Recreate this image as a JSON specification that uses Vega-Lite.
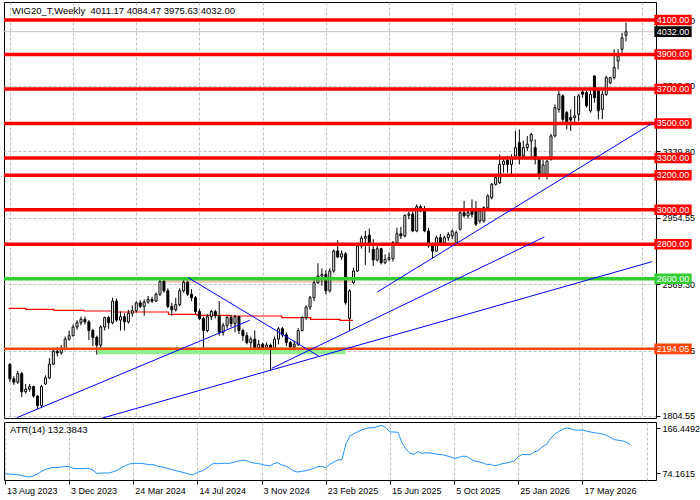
{
  "$schema": "https://vega.github.io/schema/vega-lite/v6.json",
  "background": "#ffffff",
  "padding": {"left": 1, "top": 1, "right": 0, "bottom": 0},
  "spacing": 4,
  "bounds": "flush",
  "config": {
    "font": "Liberation Sans",
    "view": {"stroke": "#000000", "strokeWidth": 1},
    "axis": {"labelFont": "Liberation Sans", "labelFontSize": 9, "labelColor": "#000000", "tickColor": "#000000"}
  },
  "datasets": {
    "bars": [
      {"d":"2023-08-13","o":2104,"h":2110,"l":2000,"c":2020,"atr":73.4},
      {"d":"2023-08-20","o":2020,"h":2035,"l":1985,"c":2000,"atr":72.7},
      {"d":"2023-08-27","o":2000,"h":2065,"l":1990,"c":2050,"atr":72.0},
      {"d":"2023-09-03","o":2050,"h":2060,"l":1915,"c":1945,"atr":71.4},
      {"d":"2023-09-10","o":1945,"h":1990,"l":1935,"c":1960,"atr":70.0},
      {"d":"2023-09-17","o":1960,"h":1990,"l":1945,"c":1975,"atr":68.0},
      {"d":"2023-09-24","o":1975,"h":1980,"l":1910,"c":1920,"atr":66.5},
      {"d":"2023-10-01","o":1920,"h":1925,"l":1845,"c":1865,"atr":68.6},
      {"d":"2023-10-08","o":1865,"h":1985,"l":1850,"c":1975,"atr":72.0},
      {"d":"2023-10-15","o":1990,"h":2040,"l":1985,"c":2025,"atr":77.5},
      {"d":"2023-10-22","o":2025,"h":2140,"l":2020,"c":2105,"atr":81.6},
      {"d":"2023-10-29","o":2105,"h":2190,"l":2100,"c":2180,"atr":84.3},
      {"d":"2023-11-05","o":2180,"h":2205,"l":2150,"c":2170,"atr":86.4},
      {"d":"2023-11-12","o":2170,"h":2215,"l":2160,"c":2195,"atr":85.7},
      {"d":"2023-11-19","o":2195,"h":2265,"l":2185,"c":2250,"atr":87.1},
      {"d":"2023-11-26","o":2250,"h":2300,"l":2240,"c":2270,"atr":88.4},
      {"d":"2023-12-03","o":2270,"h":2335,"l":2265,"c":2320,"atr":87.8},
      {"d":"2023-12-10","o":2320,"h":2360,"l":2305,"c":2345,"atr":84.3},
      {"d":"2023-12-17","o":2345,"h":2380,"l":2330,"c":2365,"atr":83.6},
      {"d":"2023-12-24","o":2365,"h":2380,"l":2335,"c":2350,"atr":83.6},
      {"d":"2023-12-31","o":2350,"h":2360,"l":2245,"c":2300,"atr":84.3},
      {"d":"2024-01-07","o":2300,"h":2310,"l":2210,"c":2260,"atr":84.3},
      {"d":"2024-01-14","o":2260,"h":2270,"l":2160,"c":2215,"atr":80.2},
      {"d":"2024-01-21","o":2215,"h":2330,"l":2200,"c":2320,"atr":73.4},
      {"d":"2024-01-28","o":2320,"h":2380,"l":2300,"c":2375,"atr":74.8},
      {"d":"2024-02-04","o":2375,"h":2385,"l":2310,"c":2345,"atr":74.8},
      {"d":"2024-02-11","o":2345,"h":2490,"l":2335,"c":2470,"atr":74.8},
      {"d":"2024-02-18","o":2470,"h":2485,"l":2350,"c":2360,"atr":77.5},
      {"d":"2024-02-25","o":2360,"h":2410,"l":2300,"c":2380,"atr":80.2},
      {"d":"2024-03-03","o":2380,"h":2400,"l":2300,"c":2350,"atr":85.7},
      {"d":"2024-03-10","o":2350,"h":2420,"l":2340,"c":2400,"atr":89.8},
      {"d":"2024-03-17","o":2400,"h":2445,"l":2380,"c":2415,"atr":93.2},
      {"d":"2024-03-24","o":2415,"h":2470,"l":2405,"c":2460,"atr":94.6},
      {"d":"2024-03-31","o":2460,"h":2475,"l":2430,"c":2440,"atr":94.6},
      {"d":"2024-04-07","o":2440,"h":2480,"l":2385,"c":2465,"atr":94.6},
      {"d":"2024-04-14","o":2465,"h":2500,"l":2455,"c":2480,"atr":93.2},
      {"d":"2024-04-21","o":2480,"h":2495,"l":2460,"c":2470,"atr":91.9},
      {"d":"2024-04-28","o":2470,"h":2520,"l":2465,"c":2510,"atr":91.9},
      {"d":"2024-05-05","o":2510,"h":2600,"l":2500,"c":2585,"atr":89.1},
      {"d":"2024-05-12","o":2585,"h":2600,"l":2520,"c":2530,"atr":87.1},
      {"d":"2024-05-19","o":2530,"h":2545,"l":2430,"c":2440,"atr":85.7},
      {"d":"2024-05-26","o":2440,"h":2460,"l":2385,"c":2420,"atr":83.0},
      {"d":"2024-06-02","o":2420,"h":2490,"l":2410,"c":2450,"atr":80.9},
      {"d":"2024-06-09","o":2450,"h":2545,"l":2440,"c":2530,"atr":78.9},
      {"d":"2024-06-16","o":2530,"h":2605,"l":2520,"c":2580,"atr":76.8},
      {"d":"2024-06-23","o":2580,"h":2590,"l":2500,"c":2510,"atr":74.8},
      {"d":"2024-06-30","o":2510,"h":2540,"l":2470,"c":2490,"atr":72.0},
      {"d":"2024-07-07","o":2490,"h":2500,"l":2395,"c":2410,"atr":71.4},
      {"d":"2024-07-14","o":2410,"h":2425,"l":2360,"c":2370,"atr":76.1},
      {"d":"2024-07-21","o":2370,"h":2380,"l":2200,"c":2300,"atr":78.9},
      {"d":"2024-07-28","o":2300,"h":2395,"l":2290,"c":2380,"atr":83.0},
      {"d":"2024-08-04","o":2380,"h":2420,"l":2360,"c":2410,"atr":89.1},
      {"d":"2024-08-11","o":2410,"h":2420,"l":2370,"c":2385,"atr":94.6},
      {"d":"2024-08-18","o":2385,"h":2470,"l":2270,"c":2290,"atr":93.9},
      {"d":"2024-08-25","o":2290,"h":2345,"l":2270,"c":2330,"atr":94.6},
      {"d":"2024-09-01","o":2330,"h":2385,"l":2310,"c":2375,"atr":94.6},
      {"d":"2024-09-08","o":2375,"h":2390,"l":2320,"c":2340,"atr":94.6},
      {"d":"2024-09-15","o":2340,"h":2390,"l":2290,"c":2380,"atr":96.6},
      {"d":"2024-09-22","o":2380,"h":2385,"l":2280,"c":2300,"atr":98.7},
      {"d":"2024-09-29","o":2300,"h":2310,"l":2240,"c":2270,"atr":100.7},
      {"d":"2024-10-06","o":2270,"h":2290,"l":2220,"c":2230,"atr":100.7},
      {"d":"2024-10-13","o":2230,"h":2265,"l":2200,"c":2250,"atr":97.3},
      {"d":"2024-10-20","o":2250,"h":2300,"l":2195,"c":2200,"atr":95.3},
      {"d":"2024-10-27","o":2200,"h":2245,"l":2195,"c":2220,"atr":94.6},
      {"d":"2024-11-03","o":2220,"h":2230,"l":2190,"c":2200,"atr":92.5},
      {"d":"2024-11-10","o":2200,"h":2230,"l":2190,"c":2215,"atr":90.5},
      {"d":"2024-11-17","o":2215,"h":2225,"l":2070,"c":2195,"atr":89.1},
      {"d":"2024-11-24","o":2195,"h":2265,"l":2190,"c":2250,"atr":93.9},
      {"d":"2024-12-01","o":2250,"h":2320,"l":2220,"c":2310,"atr":96.0},
      {"d":"2024-12-08","o":2310,"h":2320,"l":2260,"c":2275,"atr":91.2},
      {"d":"2024-12-15","o":2275,"h":2290,"l":2210,"c":2230,"atr":89.1},
      {"d":"2024-12-22","o":2230,"h":2240,"l":2195,"c":2205,"atr":84.3},
      {"d":"2024-12-29","o":2205,"h":2240,"l":2195,"c":2220,"atr":78.9},
      {"d":"2025-01-05","o":2220,"h":2315,"l":2210,"c":2300,"atr":76.8},
      {"d":"2025-01-12","o":2300,"h":2385,"l":2295,"c":2375,"atr":78.2},
      {"d":"2025-01-19","o":2375,"h":2445,"l":2360,"c":2436,"atr":79.5},
      {"d":"2025-01-26","o":2436,"h":2500,"l":2420,"c":2490,"atr":81.6},
      {"d":"2025-02-02","o":2490,"h":2590,"l":2470,"c":2577,"atr":84.3},
      {"d":"2025-02-09","o":2577,"h":2690,"l":2570,"c":2616,"atr":87.8},
      {"d":"2025-02-16","o":2616,"h":2660,"l":2560,"c":2625,"atr":88.4},
      {"d":"2025-02-23","o":2625,"h":2650,"l":2510,"c":2530,"atr":85.7},
      {"d":"2025-03-02","o":2530,"h":2660,"l":2520,"c":2645,"atr":92.5},
      {"d":"2025-03-09","o":2645,"h":2770,"l":2635,"c":2761,"atr":97.3},
      {"d":"2025-03-16","o":2761,"h":2823,"l":2720,"c":2726,"atr":101.4},
      {"d":"2025-03-23","o":2726,"h":2765,"l":2710,"c":2745,"atr":102.1},
      {"d":"2025-03-30","o":2745,"h":2755,"l":2450,"c":2461,"atr":133.6},
      {"d":"2025-04-06","o":2370,"h":2540,"l":2300,"c":2529,"atr":150.6},
      {"d":"2025-04-13","o":2577,"h":2664,"l":2568,"c":2645,"atr":155.4},
      {"d":"2025-04-20","o":2645,"h":2810,"l":2640,"c":2790,"atr":159.5},
      {"d":"2025-04-27","o":2790,"h":2850,"l":2775,"c":2835,"atr":163.6},
      {"d":"2025-05-04","o":2835,"h":2877,"l":2680,"c":2845,"atr":165.7},
      {"d":"2025-05-11","o":2852,"h":2890,"l":2751,"c":2809,"atr":167.7},
      {"d":"2025-05-18","o":2770,"h":2829,"l":2674,"c":2709,"atr":167.7},
      {"d":"2025-05-25","o":2709,"h":2790,"l":2700,"c":2774,"atr":170.5},
      {"d":"2025-06-01","o":2774,"h":2780,"l":2683,"c":2693,"atr":172.5},
      {"d":"2025-06-08","o":2693,"h":2742,"l":2684,"c":2712,"atr":167.7},
      {"d":"2025-06-15","o":2712,"h":2752,"l":2700,"c":2722,"atr":158.9},
      {"d":"2025-06-22","o":2716,"h":2819,"l":2700,"c":2809,"atr":158.9},
      {"d":"2025-06-29","o":2809,"h":2896,"l":2800,"c":2861,"atr":158.2},
      {"d":"2025-07-06","o":2861,"h":2900,"l":2830,"c":2848,"atr":137.0},
      {"d":"2025-07-13","o":2848,"h":2974,"l":2840,"c":2968,"atr":123.3},
      {"d":"2025-07-20","o":2968,"h":2990,"l":2945,"c":2975,"atr":115.1},
      {"d":"2025-07-27","o":2975,"h":2990,"l":2870,"c":2877,"atr":113.0},
      {"d":"2025-08-03","o":2877,"h":3031,"l":2870,"c":3018,"atr":118.5},
      {"d":"2025-08-10","o":3018,"h":3030,"l":2985,"c":2993,"atr":115.1},
      {"d":"2025-08-17","o":2993,"h":3022,"l":2870,"c":2877,"atr":116.5},
      {"d":"2025-08-24","o":2877,"h":2895,"l":2780,"c":2790,"atr":115.8},
      {"d":"2025-08-31","o":2790,"h":2810,"l":2720,"c":2760,"atr":114.4},
      {"d":"2025-09-07","o":2760,"h":2850,"l":2755,"c":2838,"atr":113.0},
      {"d":"2025-09-14","o":2838,"h":2860,"l":2795,"c":2809,"atr":112.4},
      {"d":"2025-09-21","o":2809,"h":2850,"l":2800,"c":2838,"atr":110.3},
      {"d":"2025-09-28","o":2838,"h":2870,"l":2820,"c":2857,"atr":108.3},
      {"d":"2025-10-05","o":2848,"h":2885,"l":2830,"c":2876,"atr":104.8},
      {"d":"2025-10-12","o":2809,"h":2880,"l":2800,"c":2867,"atr":106.2},
      {"d":"2025-10-19","o":2887,"h":2993,"l":2880,"c":2983,"atr":109.0},
      {"d":"2025-10-26","o":2983,"h":3051,"l":2955,"c":2965,"atr":109.0},
      {"d":"2025-11-02","o":2965,"h":3000,"l":2950,"c":2983,"atr":104.2},
      {"d":"2025-11-09","o":3002,"h":3060,"l":2955,"c":2973,"atr":99.4},
      {"d":"2025-11-16","o":2993,"h":3050,"l":2906,"c":2916,"atr":98.0},
      {"d":"2025-11-23","o":2935,"h":3000,"l":2920,"c":2993,"atr":96.0},
      {"d":"2025-11-30","o":2935,"h":3020,"l":2925,"c":3012,"atr":92.5},
      {"d":"2025-12-07","o":3012,"h":3090,"l":3005,"c":3080,"atr":92.5},
      {"d":"2025-12-14","o":3070,"h":3155,"l":3060,"c":3147,"atr":89.8},
      {"d":"2025-12-21","o":3147,"h":3196,"l":3140,"c":3186,"atr":91.2},
      {"d":"2025-12-28","o":3157,"h":3321,"l":3150,"c":3263,"atr":93.9},
      {"d":"2026-01-04","o":3263,"h":3302,"l":3215,"c":3282,"atr":95.3},
      {"d":"2026-01-11","o":3286,"h":3312,"l":3215,"c":3263,"atr":97.3},
      {"d":"2026-01-18","o":3263,"h":3321,"l":3205,"c":3300,"atr":99.4},
      {"d":"2026-01-25","o":3312,"h":3457,"l":3292,"c":3360,"atr":108.3},
      {"d":"2026-02-01","o":3389,"h":3466,"l":3263,"c":3312,"atr":113.0},
      {"d":"2026-02-08","o":3312,"h":3400,"l":3300,"c":3360,"atr":112.4},
      {"d":"2026-02-15","o":3360,"h":3428,"l":3340,"c":3380,"atr":112.4},
      {"d":"2026-02-22","o":3399,"h":3447,"l":3302,"c":3437,"atr":117.8},
      {"d":"2026-03-01","o":3360,"h":3408,"l":3263,"c":3292,"atr":121.3},
      {"d":"2026-03-08","o":3292,"h":3300,"l":3176,"c":3205,"atr":128.8},
      {"d":"2026-03-15","o":3205,"h":3290,"l":3195,"c":3260,"atr":133.6},
      {"d":"2026-03-22","o":3197,"h":3290,"l":3176,"c":3282,"atr":145.2},
      {"d":"2026-03-29","o":3292,"h":3440,"l":3285,"c":3428,"atr":154.1},
      {"d":"2026-04-05","o":3428,"h":3611,"l":3420,"c":3592,"atr":159.5},
      {"d":"2026-04-12","o":3582,"h":3688,"l":3563,"c":3669,"atr":164.3},
      {"d":"2026-04-19","o":3660,"h":3669,"l":3505,"c":3524,"atr":167.1},
      {"d":"2026-04-26","o":3563,"h":3573,"l":3466,"c":3495,"atr":165.7},
      {"d":"2026-05-03","o":3534,"h":3582,"l":3457,"c":3520,"atr":163.0},
      {"d":"2026-05-10","o":3534,"h":3660,"l":3505,"c":3544,"atr":162.3},
      {"d":"2026-05-17","o":3553,"h":3670,"l":3515,"c":3660,"atr":163.0},
      {"d":"2026-05-24","o":3683,"h":3698,"l":3650,"c":3670,"atr":160.9},
      {"d":"2026-05-31","o":3679,"h":3689,"l":3592,"c":3602,"atr":158.9},
      {"d":"2026-06-07","o":3573,"h":3690,"l":3563,"c":3669,"atr":157.5},
      {"d":"2026-06-14","o":3775,"h":3780,"l":3621,"c":3650,"atr":156.1},
      {"d":"2026-06-21","o":3688,"h":3698,"l":3524,"c":3573,"atr":154.8},
      {"d":"2026-06-28","o":3582,"h":3690,"l":3525,"c":3669,"atr":152.0},
      {"d":"2026-07-05","o":3669,"h":3776,"l":3660,"c":3766,"atr":147.2},
      {"d":"2026-07-12","o":3737,"h":3770,"l":3727,"c":3766,"atr":143.1},
      {"d":"2026-07-19","o":3766,"h":3930,"l":3756,"c":3824,"atr":141.8},
      {"d":"2026-07-26","o":3862,"h":3930,"l":3814,"c":3891,"atr":140.7},
      {"d":"2026-08-02","o":3930,"h":4026,"l":3910,"c":3997,"atr":137.6},
      {"d":"2026-08-09","o":4011.17,"h":4084.47,"l":3975.63,"c":4032.00,"atr":132.3843}
    ],
    "levels": [
      {"p":4100,"kind":"level"},
      {"p":4032,"kind":"last"},
      {"p":3900,"kind":"level"},
      {"p":3700,"kind":"level"},
      {"p":3500,"kind":"level"},
      {"p":3300,"kind":"level"},
      {"p":3200,"kind":"level"},
      {"p":3000,"kind":"level"},
      {"p":2800,"kind":"level"},
      {"p":2600,"kind":"key"},
      {"p":2194.05,"kind":"base"}
    ],
    "bands": [
      {"kind":"zone","d1":"2024-01-16","d2":"2025-03-30","p":2183},
      {"kind":"top","d1":"2024-05-08","d2":"2025-04-12","p":2584}
    ],
    "ma": [
      {"d":"2023-08-11","p":2428.7},
      {"d":"2023-09-10","p":2422.9},
      {"d":"2023-10-30","p":2417.1},
      {"d":"2023-12-22","p":2413.1},
      {"d":"2024-02-09","p":2407.3},
      {"d":"2024-05-20","p":2393.9},
      {"d":"2024-07-10","p":2388.1},
      {"d":"2024-09-05","p":2384.1},
      {"d":"2024-12-07","p":2374.2},
      {"d":"2025-01-27","p":2365.0},
      {"d":"2025-03-20","p":2359.2},
      {"d":"2025-04-12","p":2359.2}
    ],
    "trend": [
      {"id":"a","d":"2023-08-25T05:00:00Z","p":1794.5},
      {"id":"a","d":"2024-10-11T02:00:00Z","p":2359.2},
      {"id":"b","d":"2024-01-16T10:00:00Z","p":1785.3},
      {"id":"b","d":"2026-09-24T00:00:00Z","p":2698.9},
      {"id":"c","d":"2024-11-19T05:00:00Z","p":2080.9},
      {"id":"c","d":"2026-03-17T05:00:00Z","p":2842},
      {"id":"d","d":"2025-05-25T03:00:00Z","p":2523.2},
      {"id":"d","d":"2026-09-22T07:00:00Z","p":3497.1},
      {"id":"e","d":"2024-06-24T02:00:00Z","p":2606},
      {"id":"e","d":"2025-02-12T22:00:00Z","p":2146.4}
    ]
  },
  "vconcat": [
    {
      "width": 652,
      "height": 416,
      "layer": [
        {
          "data": {"name": "bands"},
          "transform": [{"filter": "datum.kind == 'zone'"}],
          "mark": {"type": "rule", "color": "#90ee90", "strokeWidth": 7},
          "encoding": {
            "x": {"field": "d1", "type": "temporal"},
            "x2": {"field": "d2"},
            "y": {"field": "p", "type": "quantitative"}
          }
        },
        {
          "data": {"name": "bands"},
          "transform": [{"filter": "datum.kind == 'top'"}],
          "mark": {"type": "rule", "color": "#f5c6bd", "strokeWidth": 2.5},
          "encoding": {
            "x": {"field": "d1", "type": "temporal"},
            "x2": {"field": "d2"},
            "y": {"field": "p", "type": "quantitative"}
          }
        },
        {
          "data": {"name": "ma"},
          "mark": {"type": "line", "color": "#ff0000", "strokeWidth": 1.2, "interpolate": "step-after", "clip": true},
          "encoding": {
            "x": {"field": "d", "type": "temporal"},
            "y": {"field": "p", "type": "quantitative"}
          }
        },
        {
          "data": {"name": "levels"},
          "transform": [{"filter": "datum.kind == 'last'"}],
          "mark": {"type": "rule", "color": "#c0c0c0", "strokeWidth": 1},
          "encoding": {
            "y": {"field": "p", "type": "quantitative"}
          }
        },
        {
          "data": {"name": "bars"},
          "mark": {"type": "rule", "color": "#000000", "strokeWidth": 1},
          "encoding": {
            "x": {
              "field": "d", "type": "temporal",
              "scale": {"type": "utc", "domain": [{"year": 2023, "month": 8, "date": 11, "hours": 10, "utc": true}, {"year": 2026, "month": 9, "date": 22, "hours": 7, "utc": true}]},
              "axis": {
                "values": [1691884800000, 1696723200000, 1701561600000, 1706400000000, 1711238400000, 1716076800000, 1720915200000, 1725753600000, 1730592000000, 1735430400000, 1740268800000, 1745107200000, 1749945600000, 1754784000000, 1759622400000, 1764460800000, 1769299200000, 1774137600000, 1778976000000, 1783814400000, 1788652800000],
                "grid": true, "gridDash": [3, 2], "gridColor": "#c0c0c0",
                "labels": false, "ticks": false, "domain": false, "title": null
              }
            },
            "y": {
              "field": "l", "type": "quantitative",
              "scale": {"domain": [1792.8, 4204.3], "zero": false, "nice": false},
              "axis": {
                "orient": "right",
                "values": [1804.55, 1994.30, 2184.05, 2379.55, 2569.30, 2764.80, 2954.55, 3144.30, 3339.80, 3529.55, 3719.30, 3909.05, 4098.80],
                "format": ".2f",
                "grid": true, "gridDash": [3, 2], "gridColor": "#c0c0c0",
                "tickSize": 4, "labelPadding": 2, "labelFlush": false, "labelOverlap": false,
                "domain": false, "title": null
              }
            },
            "y2": {"field": "h"}
          }
        },
        {
          "data": {"name": "bars"},
          "mark": {"type": "bar", "size": 2, "stroke": "#000000", "strokeWidth": 1},
          "encoding": {
            "x": {"field": "d", "type": "temporal"},
            "y": {"field": "o", "type": "quantitative"},
            "y2": {"field": "c"},
            "fill": {"condition": {"test": "datum.c < datum.o", "value": "#000000"}, "value": "#ffffff"}
          }
        },
        {
          "data": {"name": "levels"},
          "transform": [{"filter": "datum.kind == 'level' || datum.kind == 'key'"}],
          "mark": {"type": "rule", "strokeWidth": 3.5},
          "encoding": {
            "y": {"field": "p", "type": "quantitative"},
            "stroke": {"field": "kind", "type": "nominal", "scale": {"domain": ["level", "key", "base", "last"], "range": ["#ff0000", "#32cd32", "#ff4500", "#c0c0c0"]}, "legend": null}
          }
        },
        {
          "data": {"name": "levels"},
          "transform": [{"filter": "datum.kind == 'base'"}],
          "mark": {"type": "rule", "color": "#ff4500", "strokeWidth": 2.5},
          "encoding": {
            "y": {"field": "p", "type": "quantitative"}
          }
        },
        {
          "data": {"name": "trend"},
          "mark": {"type": "line", "color": "#0000ff", "strokeWidth": 1, "clip": true},
          "encoding": {
            "x": {"field": "d", "type": "temporal"},
            "y": {"field": "p", "type": "quantitative"},
            "detail": {"field": "id", "type": "nominal"}
          }
        },
        {
          "data": {"values": [{"t": "WIG20_T,Weekly\u00a0 4011.17 4084.47 3975.63 4032.00"}]},
          "mark": {"type": "text", "align": "left", "baseline": "top", "dx": 3, "dy": 4, "fontSize": 9.5, "color": "#000000"},
          "encoding": {
            "x": {"datum": {"year": 2023, "month": 8, "date": 11, "hours": 10, "utc": true}, "type": "temporal"},
            "y": {"datum": 4204.3, "type": "quantitative"},
            "text": {"field": "t"}
          }
        },
        {
          "data": {"name": "levels"},
          "mark": {"type": "point", "shape": "M-1,-0.287H1V0.287H-1Z", "size": 1391, "filled": true, "opacity": 1, "strokeWidth": 0},
          "encoding": {
            "x": {"datum": {"year": 2026, "month": 10, "date": 31, "hours": 7, "utc": true}, "type": "temporal"},
            "y": {"field": "p", "type": "quantitative"},
            "fill": {"field": "kind", "type": "nominal", "scale": {"domain": ["level", "key", "base", "last"], "range": ["#ff0000", "#32cd32", "#ff4500", "#000000"]}, "legend": null}
          }
        },
        {
          "data": {"name": "levels"},
          "mark": {"type": "text", "align": "center", "baseline": "middle", "fontSize": 9, "color": "#ffffff"},
          "encoding": {
            "x": {"datum": {"year": 2026, "month": 10, "date": 31, "hours": 7, "utc": true}, "type": "temporal"},
            "y": {"field": "p", "type": "quantitative"},
            "text": {"field": "p", "type": "quantitative", "format": ".2f"}
          }
        }
      ]
    },
    {
      "width": 652,
      "height": 58,
      "layer": [
        {
          "data": {"name": "bars"},
          "mark": {"type": "line", "color": "#1e90ff", "strokeWidth": 1},
          "encoding": {
            "x": {
              "field": "d", "type": "temporal",
              "scale": {"type": "utc", "domain": [{"year": 2023, "month": 8, "date": 11, "hours": 10, "utc": true}, {"year": 2026, "month": 9, "date": 22, "hours": 7, "utc": true}]},
              "axis": {
                "values": [1691884800000, 1696723200000, 1701561600000, 1706400000000, 1711238400000, 1716076800000, 1720915200000, 1725753600000, 1730592000000, 1735430400000, 1740268800000, 1745107200000, 1749945600000, 1754784000000, 1759622400000, 1764460800000, 1769299200000, 1774137600000, 1778976000000, 1783814400000, 1788652800000],
                "grid": true, "gridDash": [3, 2], "gridColor": "#c0c0c0",
                "format": "%-d %b %Y",
                "labelExpr": "(datum.value - 1691884800000) % 9676800000 == 0 && datum.value < 1780000000000 ? datum.label : ''",
                "labelAlign": "left", "labelBaseline": "top", "labelPadding": 2, "labelOffset": 1.5,
                "labelFlush": false, "labelOverlap": false,
                "tickSize": 4,
                "tickOpacity": {"condition": {"test": "(datum.value - 1691884800000) % 9676800000 == 0 && datum.value < 1780000000000", "value": 1}, "value": 0},
                "domain": false, "title": null
              }
            },
            "y": {
              "field": "atr", "type": "quantitative",
              "scale": {"domain": [60.42, 179.37], "zero": false, "nice": false},
              "axis": {"orient": "right", "values": [74.1615, 166.4492], "format": ".4f", "grid": false, "tickSize": 4, "labelPadding": 2, "labelFlush": false, "domain": false, "title": null}
            }
          }
        },
        {
          "data": {"values": [{"t": "ATR(14) 132.3843"}]},
          "mark": {"type": "text", "align": "left", "baseline": "top", "dx": 6, "dy": 3, "fontSize": 9.5, "color": "#000000"},
          "encoding": {
            "x": {"datum": {"year": 2023, "month": 8, "date": 11, "hours": 10, "utc": true}, "type": "temporal"},
            "y": {"datum": 179.37, "type": "quantitative"},
            "text": {"field": "t"}
          }
        }
      ]
    }
  ]
}
